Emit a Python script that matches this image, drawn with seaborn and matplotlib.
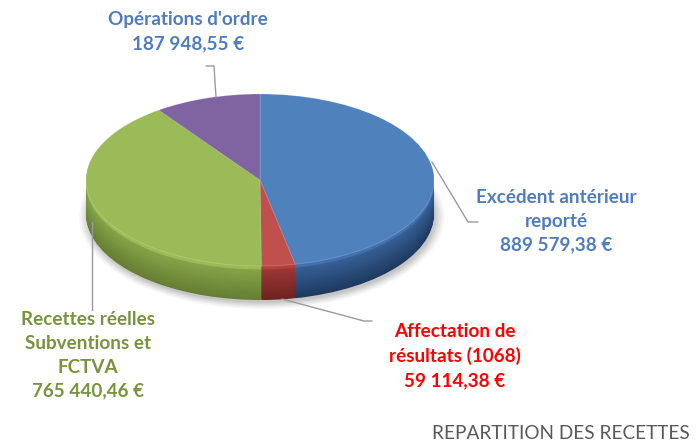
import numpy as np
import matplotlib
matplotlib.use("Agg")
import matplotlib.pyplot as plt
from matplotlib.colors import to_rgb
from matplotlib.patches import Ellipse
import seaborn as sns

# ---- data ----
categories = ["Excédent antérieur\nreporté",
              "Affectation de\nrésultats (1068)",
              "Recettes réelles\nSubventions et\nFCTVA",
              "Opérations d'ordre"]
values = [889579.38, 59114.38, 765440.46, 187948.55]
value_labels = ["889 579,38 €", "59 114,38 €", "765 440,46 €", "187 948,55 €"]
title = "REPARTITION DES RECETTES"

# ---- style ----
top_colors = ["#4F81BD", "#C0504D", "#9BBB59", "#8064A2"]
side_hi = ["#3A659C", "#A23A37", "#8AA84C", "#6A528A"]
side_lo = ["#1E3A60", "#6E2220", "#667F33", "#4A3863"]
label_colors = ["#4F7CC0", "#FF0000", "#77933C", "#4F7CC0"]

sns.set_style("white")
plt.rcParams['font.family'] = ['Lato', 'DejaVu Sans']

W, H = 697, 444
fig = plt.figure(figsize=(W / 100, H / 100), dpi=100)

# pie axes: radius 1 -> rx px horizontally, ry px vertically
cx, cy, rx, ry, depth = 260, 180, 174, 86, 34
ax = fig.add_axes([0, 0, 1, 1])

def lims():
    ax.set_xlim(-cx / rx, (W - cx) / rx)
    ax.set_ylim(-(H - cy) / ry, cy / ry)

# soft shadow below
for k, a in zip(range(6), [0.05, 0.05, 0.04, 0.04, 0.03, 0.03]):
    ax.add_patch(Ellipse((0.01, -depth / ry - 0.03), 2.0 + 0.02 * k,
                         2.0 + 0.03 * k, color="#000000", alpha=a, lw=0))

n_layers = 40
for i in range(n_layers, 0, -1):
    t = i / n_layers
    off = -depth / ry * t
    if t < 0.12:
        cols = [tuple(min(1, c * 1.12) for c in to_rgb(h)) for h in side_hi]
    else:
        cols = [tuple((1 - t) * np.array(to_rgb(h)) + t * np.array(to_rgb(l)))
                for h, l in zip(side_hi, side_lo)]
    ax.pie(values, colors=cols, startangle=90, counterclock=False,
           center=(0, off), radius=1, frame=True,
           wedgeprops=dict(linewidth=0))
ax.pie(values, colors=top_colors, startangle=90, counterclock=False,
       center=(0, 0), radius=1, frame=True,
       wedgeprops=dict(linewidth=0.6, edgecolor=(1, 1, 1, 0.2)))
ax.set_aspect('auto')
lims()
ax.axis('off')

# overlay in pixel coordinates for labels
ov = fig.add_axes([0, 0, 1, 1], facecolor='none')
ov.set_xlim(0, W)
ov.set_ylim(H, 0)
ov.axis('off')

label_pos = [(556, 221), (455, 356), (88, 355), (188, 32)]
leaders = [
    [(432, 162), (468, 222), (478, 222)],
    [(282, 299), (364, 321), (372, 321)],
    [(92, 222), (92, 310)],
    [(206, 66), (214, 66), (216, 97)],
]
for cat, vl, col, (x, y), pts in zip(categories, value_labels, label_colors,
                                     label_pos, leaders):
    ov.text(x, y, cat + "\n" + vl, ha='center', va='center', color=col,
            fontsize=13.6, fontweight='bold', linespacing=1.5)
    xs, ys = zip(*pts)
    ov.plot(xs, ys, color="#9a9a9a", lw=1)

ov.text(690, 433, title, ha='right', va='center', color="#595959",
        fontsize=13.7)

fig.savefig("out.png", dpi=100)
